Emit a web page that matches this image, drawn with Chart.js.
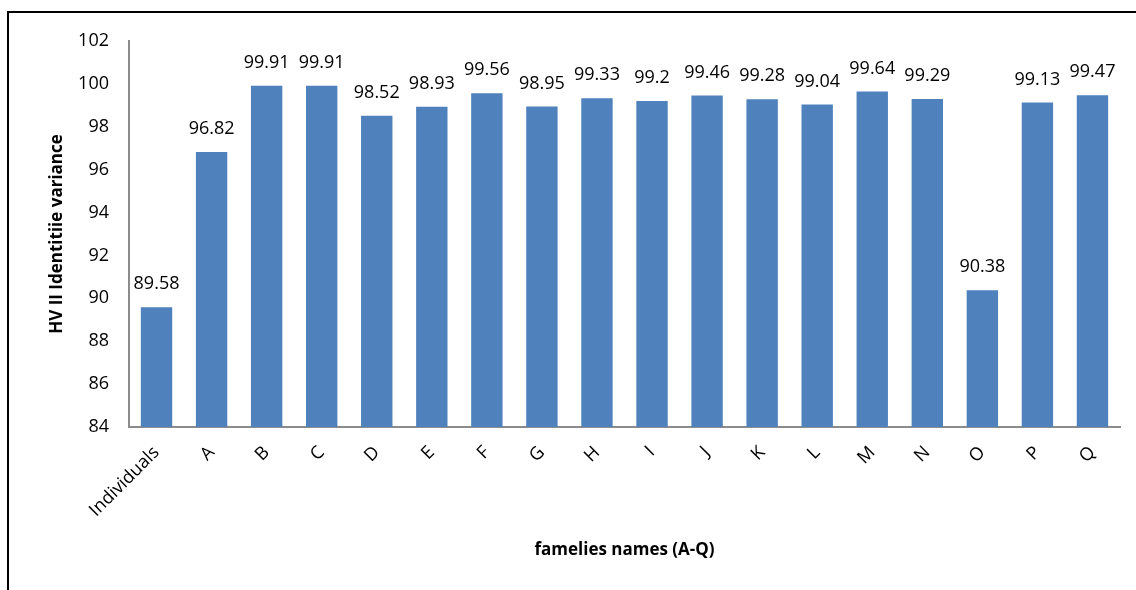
<!DOCTYPE html>
<html>
<head>
<meta charset="utf-8">
<script src="https://cdn.jsdelivr.net/npm/chart.js@4/dist/chart.umd.min.js"></script>
<style>
  html, body { margin: 0; padding: 0; background: #ffffff; }
  #wrap { position: relative; width: 1136px; height: 590px; overflow: hidden; }
  #frame { position: absolute; left: 7px; top: 11px; width: 1200px; height: 700px;
           border-top: 2px solid #000; border-left: 2px solid #000; box-sizing: border-box; }
  #box { position: absolute; left: 0; top: 0; width: 1136px; height: 590px; }
</style>
</head>
<body>
<div id="wrap">
  <div id="frame"></div>
  <div id="box"><canvas id="c"></canvas></div>
</div>
<script>
// Family names along the x axis
const categories = ['Individuals', 'A', 'B', 'C', 'D', 'E', 'F', 'G', 'H', 'I',
                    'J', 'K', 'L', 'M', 'N', 'O', 'P', 'Q'];
// HV II identity variance per family
const variance = [89.58, 96.82, 99.91, 99.91, 98.52, 98.93, 99.56, 98.95, 99.33, 99.2,
                  99.46, 99.28, 99.04, 99.64, 99.29, 90.38, 99.13, 99.47];
// Value axis range and step
const yMin = 84;
const yMax = 102;
const yStep = 2;

const FONT = "'Open Sans', 'Noto Sans', sans-serif";

// Writes each bar's value above it
const valueLabels = {
  id: 'valueLabels',
  afterDatasetsDraw(chart) {
    const ctx = chart.ctx;
    const meta = chart.getDatasetMeta(0);
    ctx.save();
    ctx.font = '18px ' + FONT;
    ctx.fillStyle = '#000000';
    ctx.textAlign = 'center';
    ctx.textBaseline = 'middle';
    meta.data.forEach((bar, i) => {
      ctx.fillText(String(chart.data.datasets[0].data[i]), bar.x, bar.y - 23);
    });
    ctx.restore();
  }
};

new Chart(document.getElementById('c'), {
  type: 'bar',
  data: {
    labels: categories,
    datasets: [{
      data: variance,
      backgroundColor: '#4F81BD',
      borderWidth: 0,
      categoryPercentage: 1.0,
      barPercentage: 0.57
    }]
  },
  options: {
    responsive: true,
    maintainAspectRatio: false,
    animation: false,
    layout: { padding: { top: 41, right: 16, left: 0, bottom: 0 } },
    plugins: {
      legend: { display: false },
      tooltip: { enabled: false }
    },
    scales: {
      x: {
        grid: { display: false, drawTicks: false },
        border: { display: true, color: '#8C8C8C', width: 2 },
        ticks: {
          color: '#000000',
          font: { family: FONT, size: 18 },
          minRotation: 45,
          maxRotation: 45,
          autoSkip: false,
          padding: 15
        },
        title: {
          display: true,
          text: 'famelies names (A-Q)',
          color: '#000000',
          font: { family: FONT, size: 17, weight: 'bold' },
          padding: { top: 0, bottom: 30 }
        },
        afterFit(scale) { scale.height = 163; }
      },
      y: {
        min: yMin,
        max: yMax,
        grid: { display: false, drawTicks: false },
        border: { display: true, color: '#8C8C8C', width: 2 },
        ticks: {
          stepSize: yStep,
          color: '#000000',
          font: { family: FONT, size: 18 },
          padding: 20
        },
        title: {
          display: true,
          text: 'HV II Identitiie variance',
          color: '#000000',
          font: { family: FONT, size: 17, weight: 'bold' },
          padding: { top: 47, bottom: 0 }
        },
        afterFit(scale) { scale.width = 129; }
      }
    }
  },
  plugins: [valueLabels]
});
</script>
</body>
</html>
